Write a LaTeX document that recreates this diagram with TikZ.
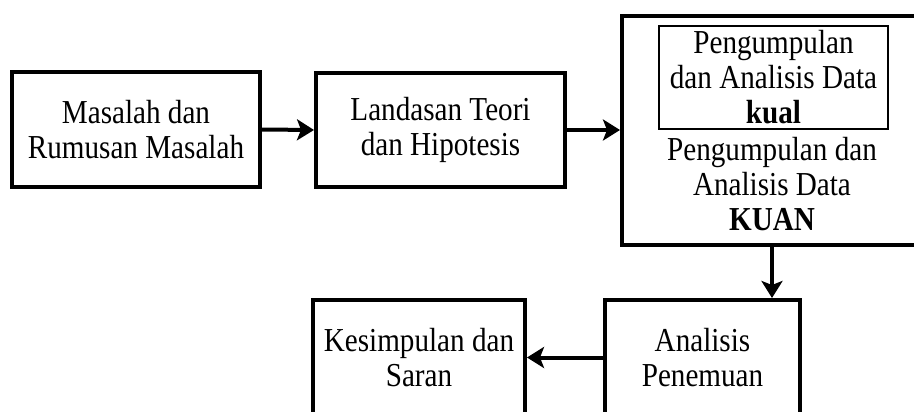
\documentclass[tikz,border=0pt]{standalone}
\usepackage{fontspec}
\setmainfont[FakeStretch=0.87]{Liberation Serif}
\usetikzlibrary{arrows.meta}
\tikzset{
  txt/.style={align=center, inner sep=0pt, font=\fontsize{33.5}{35}\selectfont},
  box/.style={txt, draw, line width=4pt},
  thinbox/.style={txt, draw, line width=1.5pt},
  flow/.style={line width=4pt, -{Stealth[length=17pt,width=21pt,inset=4pt]}}
}
\begin{document}
\begin{tikzpicture}[x=1pt,y=-1pt]
\useasboundingbox (0,0) rectangle (914,412);
\clip (0,0) rectangle (914,412);
% upper row
\node[box, minimum width=248pt, minimum height=115pt] (b1) at (136,129.5)
  {Masalah dan\\Rumusan Masalah};
\node[box, minimum width=249pt, minimum height=114pt] (b2) at (440.5,130)
  {Landasan Teori\\dan Hipotesis};
\node[box, minimum width=300pt, minimum height=229pt] (b3) at (772,130.5) {};
\node[thinbox, minimum width=229pt, minimum height=103pt] (b3a) at (773.5,77.5)
  {Pengumpulan\\dan Analisis Data\\\textbf{kual}};
\node[txt] (b3b) at (772,184.5)
  {Pengumpulan dan\\Analisis Data\\\textbf{KUAN}};
% lower row
\node[box, minimum width=212pt, minimum height=115pt] (b4) at (419,357.5)
  {Kesimpulan dan\\Saran};
\node[box, minimum width=195pt, minimum height=115pt] (b5) at (702.5,357.5)
  {Analisis\\Penemuan};
% connectors
\draw[flow] (b1.east) -- (b2.west);
\draw[flow] (b2.east) -- (b3.west |- b2.east);
\draw[flow] (b3.south) -- (b3.south |- b5.north);
\draw[flow] (b5.west) -- (b4.east);
\end{tikzpicture}
\end{document}
